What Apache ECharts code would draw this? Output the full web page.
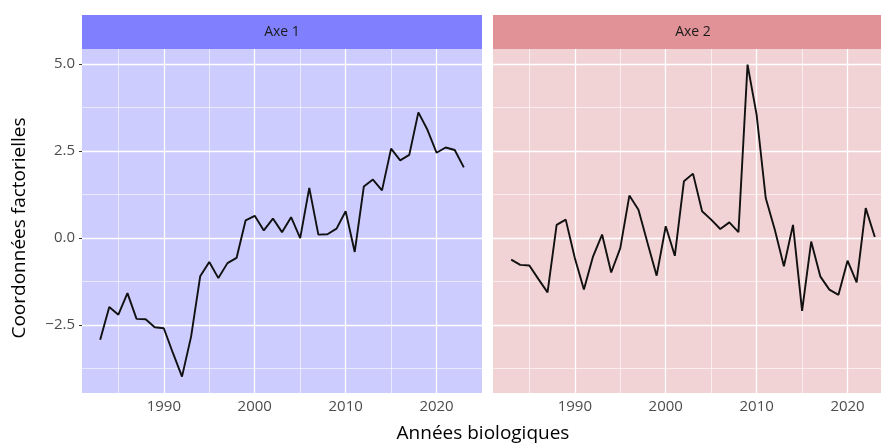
<!DOCTYPE html>
<html>
<head>
<meta charset="utf-8">
<script src="https://cdn.jsdelivr.net/npm/echarts@6/dist/echarts.min.js"></script>
<style>
  html, body { margin: 0; padding: 0; background: #fff; }
  #main { width: 881px; height: 446px; }
</style>
</head>
<body>
<div id="main"></div>
<script>
var dom = document.getElementById("main");
var myChart = echarts.init(dom);

var years = [];
for (var y = 1983; y <= 2023; y++) years.push(y);

var axe1 = [-2.92, -1.98, -2.20, -1.58, -2.32, -2.33, -2.56, -2.59, -3.30, -3.98,
            -2.83, -1.10, -0.69, -1.15, -0.72, -0.57, 0.51, 0.64, 0.22, 0.56,
            0.17, 0.60, 0.00, 1.44, 0.10, 0.11, 0.27, 0.77, -0.40, 1.48,
            1.68, 1.37, 2.57, 2.23, 2.39, 3.61, 3.11, 2.45, 2.60, 2.53, 2.03];
var axe2 = [-0.62, -0.77, -0.79, -1.18, -1.56, 0.38, 0.53, -0.57, -1.48, -0.53,
            0.10, -0.99, -0.29, 1.22, 0.81, -0.14, -1.08, 0.34, -0.51, 1.63,
            1.85, 0.77, 0.53, 0.26, 0.45, 0.17, 4.98, 3.54, 1.15, 0.24,
            -0.81, 0.38, -2.09, -0.10, -1.10, -1.48, -1.63, -0.65, -1.27, 0.86, 0.03];

var yMajor = [-2.5, 0, 2.5, 5];
var yMinor = [-3.75, -1.25, 1.25, 3.75];
var xMajor = [1990, 2000, 2010, 2020];
var xMinor = [1985, 1995, 2005, 2015];

// the second panel is cut by the right edge of the picture
var panels = [
  { name: 'Axe 1', left: 82, width: 400, xMax: 2025, strip: '#8080FF', bg: '#CCCCFF', data: axe1 },
  { name: 'Axe 2', left: 493, width: 388, xMax: 2023.68, strip: '#E09296', bg: '#F2D3D5', data: axe2 }
];

var panelTop = 49, panelH = 344, stripH = 34;

function pairs(vals) {
  return years.map(function (yr, i) { return [yr, vals[i]]; });
}

function gridLines() {
  var d = [];
  yMajor.forEach(function (v) { d.push({ yAxis: v, lineStyle: { width: 1.3 } }); });
  yMinor.forEach(function (v) { d.push({ yAxis: v, lineStyle: { width: 0.6 } }); });
  xMajor.forEach(function (v) { d.push({ xAxis: v, lineStyle: { width: 1.3 } }); });
  xMinor.forEach(function (v) { d.push({ xAxis: v, lineStyle: { width: 0.6 } }); });
  return d;
}

var fmtY = function (v) { return v.toFixed(1).replace('-', '\u2212'); };
var fmtX = function (v) { return String(v); };

var grids = [], xAxes = [], yAxes = [], series = [], graphics = [];
panels.forEach(function (p, i) {
  grids.push({
    left: p.left, top: panelTop, width: p.width, height: panelH,
    show: true, backgroundColor: p.bg, borderWidth: 0
  });
  xAxes.push({
    type: 'value', gridIndex: i, min: 1981, max: p.xMax,
    axisLine: { show: false },
    splitLine: { show: false },
    axisTick: { show: true, length: 3, customValues: xMajor, lineStyle: { color: '#333' } },
    axisLabel: { customValues: xMajor, formatter: fmtX, color: '#4D4D4D', fontSize: 15, margin: 6,
                 fontFamily: 'Open Sans' }
  });
  yAxes.push({
    type: 'value', gridIndex: i, min: -4.45, max: 5.43,
    axisLine: { show: false },
    splitLine: { show: false },
    axisTick: { show: i === 0, length: 3, customValues: yMajor, lineStyle: { color: '#333' } },
    axisLabel: { show: i === 0, customValues: yMajor, formatter: fmtY, color: '#4D4D4D',
                 fontSize: 15, margin: 7, fontFamily: 'Open Sans' }
  });
  series.push({
    type: 'line', xAxisIndex: i, yAxisIndex: i, data: [], z: 1, silent: true,
    markLine: {
      silent: true, symbol: 'none', animation: false, z: 1,
      label: { show: false },
      lineStyle: { color: '#FFFFFF', type: 'solid', opacity: 1 },
      data: gridLines()
    }
  });
  series.push({
    name: p.name, type: 'line', xAxisIndex: i, yAxisIndex: i, z: 3,
    data: pairs(p.data), showSymbol: false, smooth: false,
    lineStyle: { color: '#111', width: 1.9 }
  });
  graphics.push({
    type: 'rect', left: p.left, top: panelTop - stripH,
    shape: { width: p.width, height: stripH }, style: { fill: p.strip }
  });
  graphics.push({
    type: 'text', x: p.left + 200, y: panelTop - stripH / 2,
    style: { text: p.name, fill: '#1A1A1A', font: '14px "Open Sans"', align: 'center', verticalAlign: 'middle' }
  });
});

graphics.push({
  type: 'text', x: 20, y: 228, rotation: Math.PI / 2,
  style: { text: 'Coordonnées factorielles', fill: '#000', font: '19px "Open Sans"', align: 'center', verticalAlign: 'middle' }
});
graphics.push({
  type: 'text', x: 483, y: 434,
  style: { text: 'Années biologiques', fill: '#000', font: '19px "Open Sans"', align: 'center', verticalAlign: 'middle' }
});

var option = {
  animation: false,
  grid: grids,
  xAxis: xAxes,
  yAxis: yAxes,
  series: series,
  graphic: graphics
};
myChart.setOption(option);
window.onresize = myChart.resize;
</script>
</body>
</html>
